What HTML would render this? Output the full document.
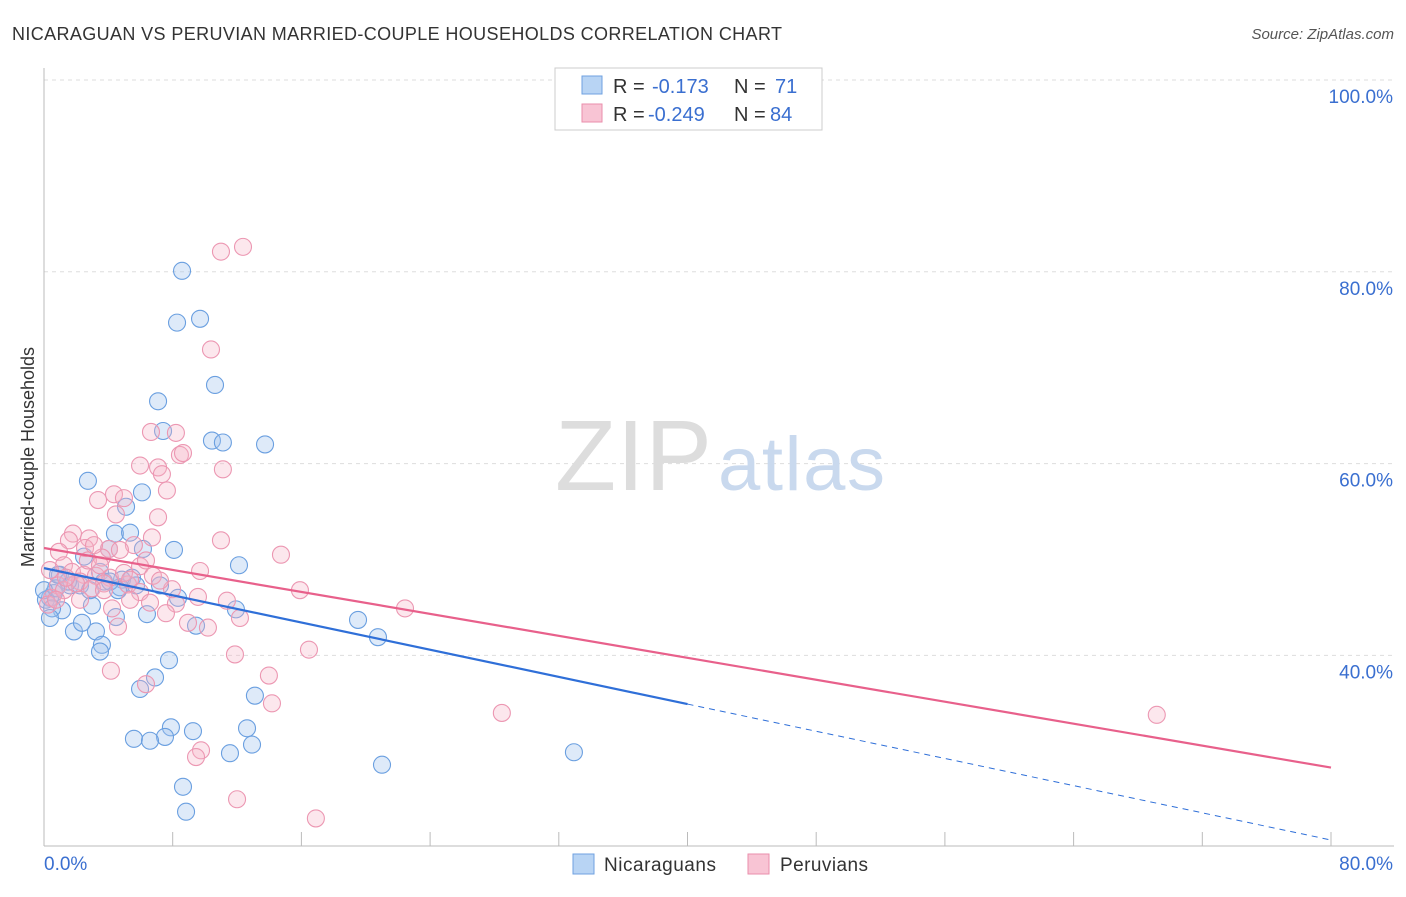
<!DOCTYPE html>
<html><head><meta charset="utf-8"><style>
body{margin:0;background:#fff;font-family:"Liberation Sans",sans-serif;}
svg text{font-family:"Liberation Sans",sans-serif;}
</style></head><body>
<svg id="chart" width="1406" height="892">
<text x="12" y="40" font-size="18" fill="#333" textLength="770">NICARAGUAN VS PERUVIAN MARRIED-COUPLE HOUSEHOLDS CORRELATION CHART</text>
<text x="1394" y="39" font-size="15" font-style="italic" fill="#555" text-anchor="end">Source: ZipAtlas.com</text>
<g id="grid"></g>
<text x="712" y="490" font-size="100" fill="#ddd" text-anchor="end" font-family="Liberation Serif" textLength="157">ZIP</text>
<text x="718" y="490" font-size="76" fill="#c9d9ee" textLength="167">atlas</text>
<g id="points"></g>
<g id="trends"></g>
<text transform="translate(34,457) rotate(-90)" font-size="18" fill="#333" text-anchor="middle">Married-couple Households</text>
<g>
<rect x="555" y="68" width="267" height="62" fill="#fff" stroke="#ccc"/>
<rect x="582" y="76" width="20" height="18" fill="#b8d4f4" stroke="#6fa1e0"/>
<rect x="582" y="104" width="20" height="18" fill="#f8c4d4" stroke="#ea8eab"/>
<text x="613" y="93" font-size="20" fill="#333">R = <tspan x="652" fill="#3a6fd0">-0.173</tspan><tspan x="734">N = </tspan><tspan x="775" fill="#3a6fd0">71</tspan></text>
<text x="613" y="121" font-size="20" fill="#333">R = <tspan x="648" fill="#3a6fd0">-0.249</tspan><tspan x="734">N = </tspan><tspan x="770" fill="#3a6fd0">84</tspan></text>
</g>
<g>
<rect x="573" y="854" width="21" height="20" fill="#b8d4f4" stroke="#6fa1e0"/>
<text x="604" y="871" font-size="19" fill="#333" textLength="112">Nicaraguans</text>
<rect x="748" y="854" width="21" height="20" fill="#f8c4d4" stroke="#ea8eab"/>
<text x="780" y="871" font-size="19" fill="#333" textLength="88">Peruvians</text>
</g>
</svg>
<script>
const xTicks=[0,8,16,24,32,40,48,56,64,72,80];
const yTicks=[40,60,80,100];
const blue=[[8.58,80.1],[8.27,74.7],[9.70,75.1],[10.63,68.2],[7.09,66.5],[7.40,63.4],[10.44,62.4],[11.12,62.2],[13.74,62.0],[2.73,58.2],[6.09,57.0],[5.10,55.5],[4.41,52.7],[5.35,52.8],[8.08,51.0],[6.15,51.1],[4.04,51.1],[2.49,50.3],[12.12,49.4],[0.99,48.4],[1.62,47.3],[3.48,48.7],[2.24,47.3],[5.47,48.1],[4.85,47.9],[7.21,47.3],[5.72,47.3],[8.33,46.0],[0.62,46.5],[0.37,46.0],[0.12,45.8],[1.12,44.7],[2.98,45.2],[0.50,44.9],[6.40,44.3],[11.93,44.8],[19.52,43.7],[9.45,43.1],[1.86,42.5],[3.23,42.5],[2.36,43.4],[4.47,44.0],[20.76,41.9],[3.60,41.1],[3.48,40.4],[7.77,39.5],[6.90,37.7],[5.97,36.5],[13.11,35.8],[12.62,32.4],[7.89,32.5],[7.52,31.5],[9.26,32.1],[5.59,31.3],[6.59,31.1],[12.93,30.7],[11.56,29.8],[32.94,29.9],[21.01,28.6],[8.64,26.3],[8.83,23.7],[0.37,43.9],[4.72,47.1],[3.73,47.7],[1.49,47.7],[0.75,47.0],[2.86,46.8],[0.87,48.4],[0,46.8],[4.10,47.7],[4.60,46.8]];
const pink=[[12.37,82.6],[11.0,82.1],[10.38,71.9],[6.65,63.3],[8.2,63.2],[8.45,60.9],[8.64,61.1],[5.97,59.8],[7.09,59.6],[7.33,58.9],[11.12,59.4],[7.64,57.2],[3.36,56.2],[4.35,56.8],[4.97,56.4],[7.09,54.4],[4.47,54.7],[1.80,52.7],[1.55,52.0],[2.80,52.2],[2.55,51.2],[6.71,52.3],[11.0,52.0],[4.04,51.1],[5.59,51.5],[0.93,50.8],[14.73,50.5],[3.60,50.2],[1.24,49.4],[5.97,49.3],[9.70,48.8],[1.74,48.7],[2.49,48.4],[4.10,48.1],[15.91,46.8],[7.96,46.9],[2.24,47.7],[3.23,48.3],[3.73,47.5],[6.77,48.3],[7.21,47.8],[5.22,47.4],[9.57,46.1],[11.37,45.7],[8.2,45.4],[0.5,46.0],[0.25,45.3],[7.58,44.4],[8.95,43.4],[12.18,43.9],[4.6,43.0],[10.19,42.9],[22.44,44.9],[16.47,40.6],[11.87,40.1],[4.16,38.4],[13.98,37.9],[6.34,37.0],[14.17,35.0],[28.46,34.0],[9.76,30.1],[9.45,29.4],[12.0,25.0],[16.9,23.0],[69.17,33.8],[0.87,47.3],[1.24,46.8],[1.99,47.5],[2.98,47.0],[4.97,48.6],[5.35,47.9],[2.73,49.9],[4.72,51.0],[6.34,49.9],[3.73,46.8],[5.97,46.6],[0.37,48.9],[1.37,48.1],[0.75,45.8],[2.24,45.8],[3.48,49.4],[6.59,45.5],[3.11,51.5],[5.35,45.8],[4.23,44.9]];
const blueTrend=[49.1,20.75];
const pinkTrend=[51.2,28.3];
const blueSolidEnd=40;
const NS="http://www.w3.org/2000/svg";
const X=v=>44+v*(1287/80);
const Y=v=>80+(100-v)*9.59;
function mk(t,a,parent){const e=document.createElementNS(NS,t);for(const k in a)e.setAttribute(k,a[k]);parent.appendChild(e);return e;}
const grid=document.getElementById('grid');
yTicks.forEach(t=>{
 const l=mk('line',{x1:44,x2:1394,y1:Y(t),y2:Y(t),stroke:'#ddd','stroke-dasharray':'4,4'},grid);
 
 
 const tx=mk('text',{x:1393,y:Y(t)+23,'font-size':19,fill:'#3a6fd0','text-anchor':'end'},grid);
 tx.textContent=t.toFixed(1)+'%';
 
 
});
const ax=mk('line',{x1:44,x2:44,y1:68,y2:846,stroke:'#bbb'},grid);


const bx=mk('line',{x1:44,x2:1394,y1:846,y2:846,stroke:'#bbb'},grid);


xTicks.forEach(t=>{
 const l=mk('line',{x1:X(t),x2:X(t),y1:832,y2:846,stroke:'#bbb'},grid);
 
 
});
[[0,'start'],[80,'end']].forEach(([t,a])=>{
 const tx=mk('text',{x:t===0?44:1393,y:870,'font-size':19,fill:'#3a6fd0','text-anchor':a},grid);
 tx.textContent=t.toFixed(1)+'%';
 
 
});
const pts=document.getElementById('points');
blue.forEach(d=>{
 const c=mk('circle',{cx:X(d[0]),cy:Y(d[1]),r:8.5,fill:'rgba(160,196,238,0.35)',stroke:'#6a9fe0','stroke-width':1.1},pts);
 
 
});
pink.forEach(d=>{
 const c=mk('circle',{cx:X(d[0]),cy:Y(d[1]),r:8.5,fill:'rgba(246,180,200,0.32)',stroke:'#ec97b2','stroke-width':1.1},pts);
 
 
});
const tr=document.getElementById('trends');
const bAt=x=>blueTrend[0]+(blueTrend[1]-blueTrend[0])*x/80;
const pAt=x=>pinkTrend[0]+(pinkTrend[1]-pinkTrend[0])*x/80;
let l1=mk('line',{x1:X(0),y1:Y(bAt(0)),x2:X(blueSolidEnd),y2:Y(bAt(blueSolidEnd)),stroke:'#2f6fd8','stroke-width':2.2},tr);


let l2=mk('line',{x1:X(blueSolidEnd),y1:Y(bAt(blueSolidEnd)),x2:X(80),y2:Y(bAt(80)),stroke:'#2f6fd8','stroke-width':1,'stroke-dasharray':'6,5'},tr);


let l3=mk('line',{x1:X(0),y1:Y(pAt(0)),x2:X(80),y2:Y(pAt(80)),stroke:'#e8608b','stroke-width':2.2},tr);


</script>
</body></html>
